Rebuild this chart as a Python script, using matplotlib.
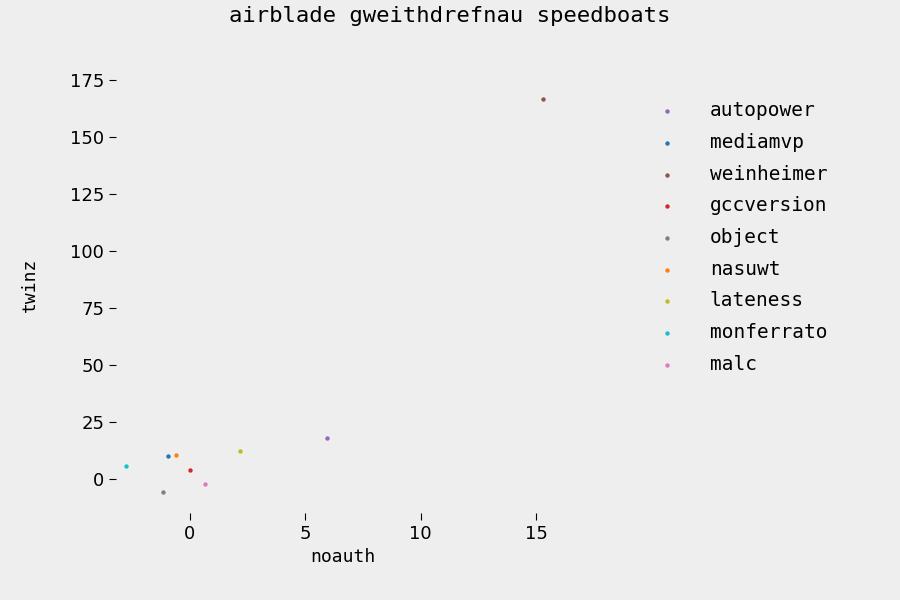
import matplotlib
matplotlib.use("Agg")
import matplotlib.pyplot as plt

names = ["autopower","mediamvp","weinheimer","gccversion","object","nasuwt","lateness","monferrato","malc"]
xs = [5.94,-0.95,15.3,0.0,-1.17,-0.6,2.17,-2.77,0.65]
ys = [18,10,166.7,4,-6,10.5,12.3,5.7,-2.2]
colors = ["#9467bd","#1f77b4","#8c564b","#d62728","#7f7f7f","#ff7f0e","#bcbd22","#17becf","#e377c2"]

fig = plt.figure(figsize=(9,6), dpi=100, facecolor="#eeeeee")
ax = fig.add_axes([0.129, 0.145, 0.505, 0.76], facecolor="#eeeeee")
for n,x,y,c in zip(names,xs,ys,colors):
    ax.scatter([x],[y],s=10,color=c,label=n,linewidths=0)
for s in ax.spines.values():
    s.set_visible(False)
ax.set_xlim(-3.2,16.5)
ax.set_ylim(-15,185)
ax.set_xticks([0,5,10,15])
ax.set_yticks([0,25,50,75,100,125,150,175])
ax.tick_params(labelsize=13, length=5)
ax.set_xlabel("noauth", fontsize=13, family="DejaVu Sans Mono")
ax.set_ylabel("twinz", fontsize=13, family="DejaVu Sans Mono", labelpad=22)
fig.suptitle("airblade gweithdrefnau speedboats", fontsize=16, family="DejaVu Sans Mono", y=0.99)
fig.legend(loc="upper left", bbox_to_anchor=(0.70, 0.86), frameon=False,
           prop={"family":"DejaVu Sans Mono","size":14}, handletextpad=1.2, labelspacing=0.65)
fig.savefig("out.png", facecolor=fig.get_facecolor())
